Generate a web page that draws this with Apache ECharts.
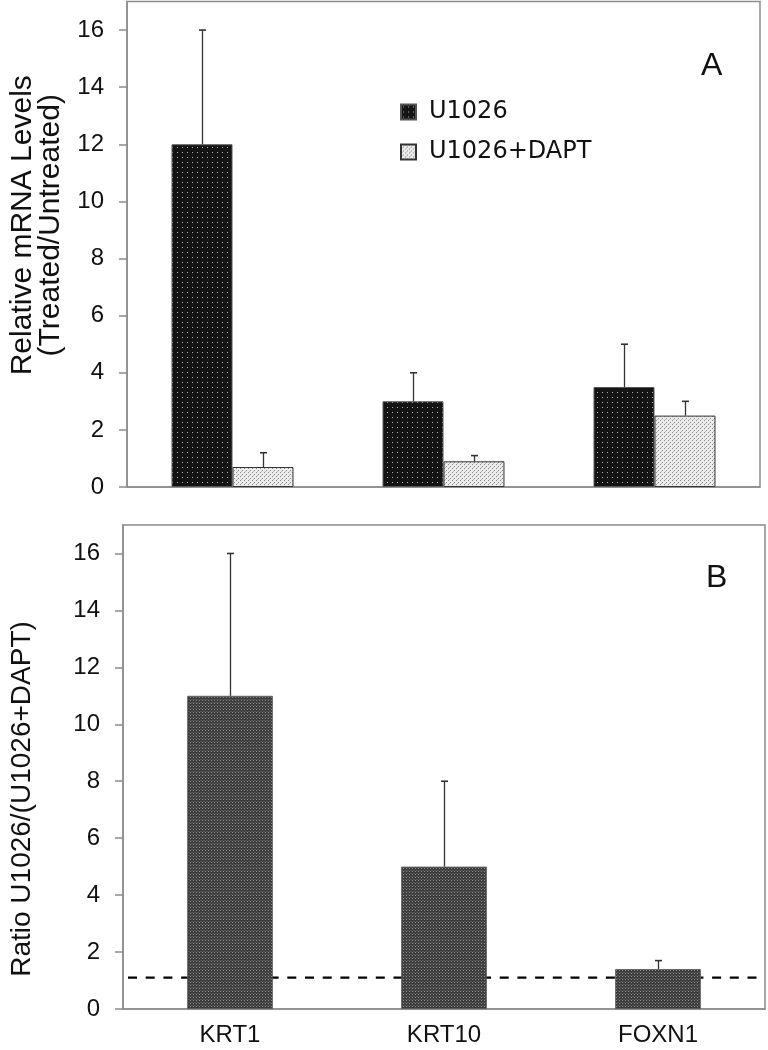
<!DOCTYPE html>
<html><head><meta charset="utf-8">
<script src="https://cdn.jsdelivr.net/npm/echarts@6/dist/echarts.min.js"></script>
<style>html,body{margin:0;padding:0;background:#fff}#c{width:768px;height:1050px}</style>
</head><body><div id="c"></div>
<script>
const categories = ['KRT1', 'KRT10', 'FOXN1'];
const seriesNames = ['U1026', 'U1026+DAPT'];
const u1026 = [12, 3, 3.5];
const u1026Err = [16, 4, 5];
const dapt = [0.7, 0.9, 2.5];
const daptErr = [1.2, 1.1, 3.0];
const ratio = [11, 5, 1.4];
const ratioErr = [16, 8, 1.7];
const refLevel = [1.1];
const panelLabels = ['A', 'B'];
const yTitleTop = 'Relative mRNA Levels\n(Treated/Untreated)';
const yTitleBottom = 'Ratio U1026/(U1026+DAPT)';

function makePattern(w, h, bg, dots) {
  const c = document.createElement('canvas');
  c.width = w; c.height = h;
  const g = c.getContext('2d');
  g.fillStyle = bg; g.fillRect(0, 0, w, h);
  dots.forEach(d => { g.fillStyle = d[2]; g.fillRect(d[0], d[1], 1, 1); });
  return { image: c, repeat: 'repeat' };
}
const darkPat = makePattern(5, 5, '#141414', [[2, 2, '#b0b0b0']]);
const lightPat = makePattern(4, 4, '#ececec', [[0, 0, '#8a8a8a'], [2, 2, '#8a8a8a'], [1, 3, '#bdbdbd']]);
const ratioPat = makePattern(3, 3, '#3c3c3c', [[1, 1, '#8f8f8f'], [0, 0, '#555'], [2, 0, '#555']]);

function errItem(offsetFrac) {
  return function (params, api) {
    const x = api.value(0), lo = api.value(1), hi = api.value(2);
    const band = api.size([1, 0])[0];
    const p0 = api.coord([x, lo]), p1 = api.coord([x, hi]);
    const cx = Math.round(p0[0] + band * offsetFrac) + 0.5;
    const cap = 3.5;
    return {
      type: 'group', children: [
        { type: 'line', shape: { x1: cx, y1: p0[1], x2: cx, y2: p1[1] }, style: { stroke: '#333', lineWidth: 1.3 } },
        { type: 'line', shape: { x1: cx - cap, y1: p1[1], x2: cx + cap, y2: p1[1] }, style: { stroke: '#333', lineWidth: 1.6 } }
      ]
    };
  };
}

const axisGray = '#8c8c8c';
const font = 'Liberation Sans, Arial, sans-serif';
const topBarFrac = 0.289;

function yAxisCfg(grid, name, nameGap, size, pad, lh) {
  return {
    type: 'value', gridIndex: grid, min: 0, max: 17, interval: 2,
    splitLine: { show: false },
    axisLine: { show: true, lineStyle: { color: axisGray, width: 1.5 } },
    axisTick: { show: true, length: 8, lineStyle: { color: axisGray, width: 1.5 } },
    axisLabel: { fontSize: 24, fontFamily: font, color: '#111', margin: 23, showMaxLabel: false },
    name: name, nameLocation: 'middle', nameRotate: 90, nameGap: nameGap,
    nameTextStyle: { fontSize: size, fontFamily: font, color: '#111', lineHeight: lh, padding: pad }
  };
}

const chart = echarts.init(document.getElementById('c'), null, { renderer: 'canvas' });
chart.setOption({
  animation: false,
  backgroundColor: '#fff',
  grid: [
    { left: 117, top: 1.5, width: 643, height: 485.5, show: true, borderColor: axisGray, borderWidth: 1.5, backgroundColor: 'transparent' },
    { left: 117, top: 525, width: 648, height: 484, show: true, borderColor: axisGray, borderWidth: 1.5, backgroundColor: 'transparent' }
  ],
  legend: {
    orient: 'vertical', left: 395, top: 95, itemWidth: 15, itemHeight: 15, itemGap: 16,
    icon: 'rect', data: seriesNames,
    textStyle: { fontSize: 24, fontFamily: 'DejaVu Sans', color: '#111', lineHeight: 24, padding: [0, 0, 0, 8] }
  },
  graphic: [
    { type: 'text', left: 701, top: 50, style: { text: panelLabels[0], fontSize: 32, fontFamily: font, fill: '#111' } },
    { type: 'text', left: 706, top: 562, style: { text: panelLabels[1], fontSize: 32, fontFamily: font, fill: '#111' } }
  ],
  xAxis: [
    { type: 'category', gridIndex: 0, data: categories,
      axisLine: { lineStyle: { color: axisGray, width: 1.5 } },
      axisTick: { alignWithLabel: true, length: 5, lineStyle: { color: axisGray, width: 1.5 } },
      axisLabel: { show: false } },
    { type: 'category', gridIndex: 1, data: categories,
      axisLine: { lineStyle: { color: axisGray, width: 1.5 } },
      axisTick: { length: 9, lineStyle: { color: axisGray, width: 1.5 } },
      axisLabel: { fontSize: 24, fontFamily: font, color: '#111', margin: 14 } }
  ],
  yAxis: [
    yAxisCfg(0, yTitleTop, 62, 30, [0, 0, 0, 38], 28),
    yAxisCfg(1, yTitleBottom, 86, 28, [0, 64, 0, 0], 29)
  ],
  series: [
    { name: seriesNames[0], type: 'bar', xAxisIndex: 0, yAxisIndex: 0, data: u1026,
      barWidth: (topBarFrac * 100) + '%', barGap: '0%', z: 2,
      itemStyle: { color: darkPat, borderColor: '#555', borderWidth: 1 } },
    { name: seriesNames[1], type: 'bar', xAxisIndex: 0, yAxisIndex: 0, data: dapt,
      barWidth: (topBarFrac * 100) + '%', barGap: '0%', z: 2,
      itemStyle: { color: lightPat, borderColor: '#333', borderWidth: 1 } },
    { type: 'custom', xAxisIndex: 0, yAxisIndex: 0, z: 3, silent: true,
      renderItem: errItem(-topBarFrac / 2), encode: { x: 0, y: [1, 2] },
      data: u1026.map((v, i) => [i, v, u1026Err[i]]) },
    { type: 'custom', xAxisIndex: 0, yAxisIndex: 0, z: 3, silent: true,
      renderItem: errItem(topBarFrac / 2), encode: { x: 0, y: [1, 2] },
      data: dapt.map((v, i) => [i, v, daptErr[i]]) },
    { type: 'custom', xAxisIndex: 1, yAxisIndex: 1, z: 1, silent: true, clip: false,
      encode: { x: 0, y: 1 },
      data: refLevel.map(v => [0, v]),
      renderItem: function (params, api) {
        const cs = params.coordSys;
        const y = api.coord([0, api.value(1)])[1];
        return { type: 'line', shape: { x1: cs.x + 5, y1: y, x2: cs.x + cs.width - 3, y2: y },
          style: { stroke: '#000', lineWidth: 2.2, lineDash: [9, 8.7] } };
      } },
    { name: 'Ratio', type: 'bar', xAxisIndex: 1, yAxisIndex: 1, data: ratio,
      barWidth: '40%', z: 2,
      itemStyle: { color: ratioPat, borderColor: '#555', borderWidth: 0.8 } },
    { type: 'custom', xAxisIndex: 1, yAxisIndex: 1, z: 3, silent: true,
      renderItem: errItem(0), encode: { x: 0, y: [1, 2] },
      data: ratio.map((v, i) => [i, v, ratioErr[i]]) }
  ]
});
</script></body></html>
